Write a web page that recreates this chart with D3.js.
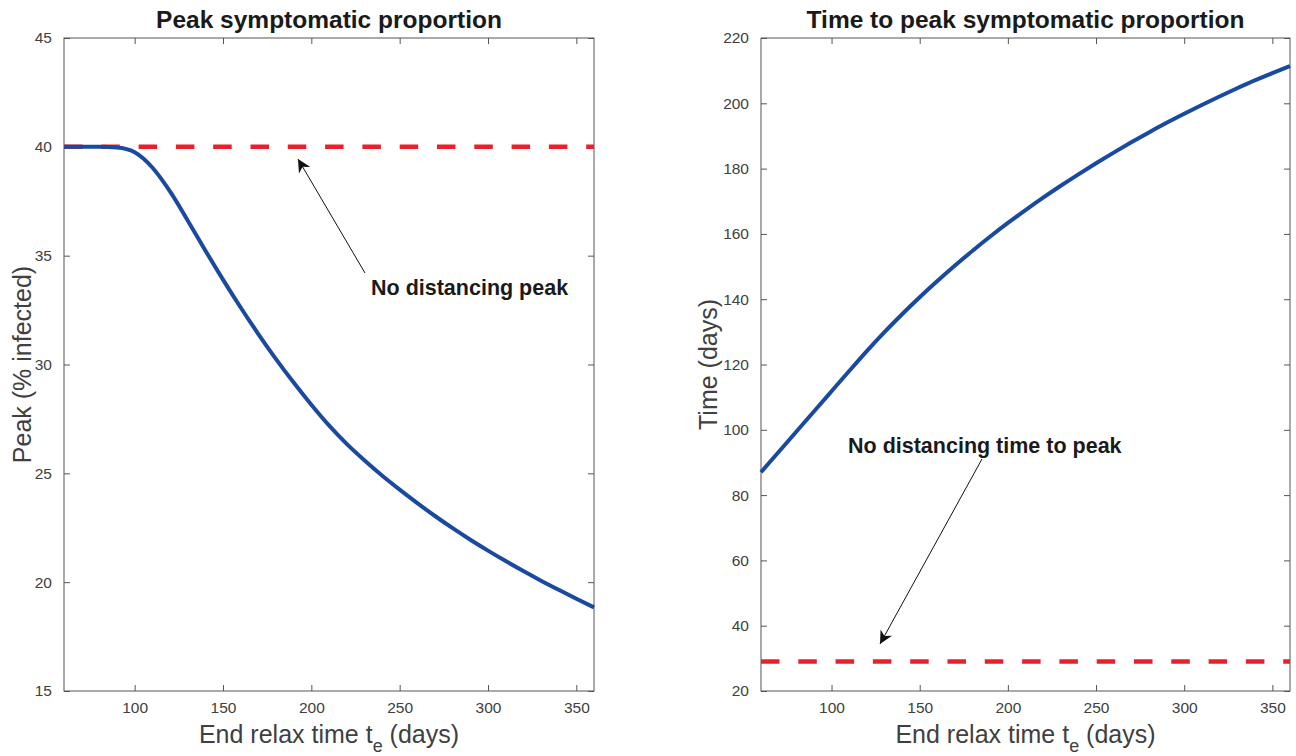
<!DOCTYPE html>
<html>
<head>
<meta charset="utf-8">
<script src="https://cdn.jsdelivr.net/npm/d3@7"></script>
<style>
  body { margin: 0; background: #fff; }
  svg { display: block; font-family: "Liberation Sans", Arial, sans-serif; }
</style>
</head>
<body>
<div id="chart"></div>
<script>
// end relax time t_e (days)
var relaxTimes = [60, 70, 80, 90, 100, 110, 120, 130, 140, 150, 160, 170, 180, 190, 200, 210,
                  220, 230, 240, 250, 260, 270, 280, 290, 300, 310, 320, 330, 340, 350, 360];
// peak symptomatic proportion (% infected)
var peakValues = [40.0, 40.0, 40.0, 39.97, 39.75, 39.05, 37.95, 36.62, 35.24, 33.9, 32.62, 31.4, 30.25, 29.17, 28.15, 27.2,
                  26.35, 25.6, 24.9, 24.25, 23.63, 23.04, 22.48, 21.95, 21.45, 20.97, 20.51, 20.07, 19.65, 19.24, 18.84];
// time to peak (days)
var peakTimes = [87, 93.2, 99.4, 105.6, 111.8, 118.0, 124.1, 129.9, 135.4, 140.6, 145.55, 150.3, 154.85, 159.2, 163.35, 167.3,
                 171.1, 174.75, 178.25, 181.63, 184.89, 188.04, 191.08, 194.02, 196.8, 199.5, 202.1, 204.6, 207.0, 209.25, 211.4];
var noDistancingPeak = 40;
var noDistancingTime = 29;

var xTicks = [100, 150, 200, 250, 300, 350];
var leftYTicks = [15, 20, 25, 30, 35, 40, 45];
var rightYTicks = [20, 40, 60, 80, 100, 120, 140, 160, 180, 200, 220];

var width = 1296, height = 756;
var blue = "#1a4aa0", red = "#e8202d", axisColor = "#555", textColor = "#404040";

var svg = d3.select("#chart").append("svg")
    .attr("width", width)
    .attr("height", height);

svg.append("defs").append("marker")
    .attr("id", "head")
    .attr("viewBox", "0 0 10 10")
    .attr("refX", 10).attr("refY", 5)
    .attr("markerWidth", 13).attr("markerHeight", 13)
    .attr("markerUnits", "userSpaceOnUse")
    .attr("orient", "auto")
  .append("path")
    .attr("d", "M0,0 L10,5 L0,10 L3,5 Z")
    .attr("fill", "#111");

function panel(opts) {
  var x = d3.scaleLinear().domain([60, 360]).range([opts.left, opts.right]);
  var y = d3.scaleLinear().domain(opts.yDomain).range([691, 38]);
  var g = svg.append("g");

  // box
  g.append("rect")
    .attr("x", opts.left).attr("y", 38)
    .attr("width", opts.right - opts.left).attr("height", 653)
    .attr("fill", "none").attr("stroke", axisColor).attr("stroke-width", 1);

  // ticks (inward, mirrored)
  var tl = 6;
  var bottom = g.append("g").attr("transform", "translate(0,691)")
    .call(d3.axisBottom(x).tickValues(xTicks).tickSizeInner(-tl).tickSizeOuter(0).tickPadding(11));
  var top = g.append("g").attr("transform", "translate(0,38)")
    .call(d3.axisTop(x).tickValues(xTicks).tickSizeInner(-tl).tickSizeOuter(0).tickFormat(""));
  var leftAx = g.append("g").attr("transform", "translate(" + opts.left + ",0)")
    .call(d3.axisLeft(y).tickValues(opts.yTicks).tickSizeInner(-tl).tickSizeOuter(0).tickPadding(12));
  var rightAx = g.append("g").attr("transform", "translate(" + opts.right + ",0)")
    .call(d3.axisRight(y).tickValues(opts.yTicks).tickSizeInner(-tl).tickSizeOuter(0).tickFormat(""));
  [bottom, top, leftAx, rightAx].forEach(function (a) {
    a.select(".domain").remove();
    a.selectAll(".tick line").attr("stroke", axisColor);
    a.selectAll(".tick text").attr("fill", textColor).style("font-size", "15.5px")
      .style("font-family", "Liberation Sans, Arial, sans-serif");
  });

  // reference dashed line
  g.append("line")
    .attr("x1", x(60)).attr("x2", x(360))
    .attr("y1", y(opts.refValue)).attr("y2", y(opts.refValue))
    .attr("stroke", red).attr("stroke-width", 4.5)
    .attr("stroke-dasharray", "18.5,18.8");

  // curve
  var line = d3.line()
    .x(function (d, i) { return x(relaxTimes[i]); })
    .y(function (d) { return y(d); })
    .curve(d3.curveMonotoneX);
  g.append("path")
    .datum(opts.values)
    .attr("d", line)
    .attr("fill", "none").attr("stroke", blue).attr("stroke-width", 4);

  // title
  g.append("text")
    .attr("x", (opts.left + opts.right) / 2).attr("y", 28)
    .attr("text-anchor", "middle")
    .style("font-size", "24.5px").style("font-weight", "bold").attr("fill", "#1a1a1a")
    .text(opts.title);

  // x label
  var xl = g.append("text")
    .attr("x", (opts.left + opts.right) / 2).attr("y", 743)
    .attr("text-anchor", "middle")
    .style("font-size", "25px").attr("fill", textColor);
  xl.append("tspan").text("End relax time t");
  xl.append("tspan").attr("dy", 9).style("font-size", "18px").text("e");
  xl.append("tspan").attr("dy", -9).text(" (days)");

  // y label
  g.append("text")
    .attr("transform", "translate(" + opts.yLabelX + "," + (38 + 691) / 2 + ") rotate(-90)")
    .attr("text-anchor", "middle")
    .style("font-size", "25px").attr("fill", textColor)
    .text(opts.yLabel);

  // annotation
  g.append("line")
    .attr("x1", opts.arrow[0]).attr("y1", opts.arrow[1])
    .attr("x2", opts.arrow[2]).attr("y2", opts.arrow[3])
    .attr("stroke", "#111").attr("stroke-width", 1)
    .attr("marker-end", "url(#head)");
  g.append("text")
    .attr("x", opts.note[0]).attr("y", opts.note[1])
    .style("font-size", "21.5px").style("font-weight", "bold").attr("fill", "#1a1a1a")
    .text(opts.noteText);
}

panel({
  left: 64, right: 594, yDomain: [15, 45], yTicks: leftYTicks,
  values: peakValues, refValue: noDistancingPeak,
  title: "Peak symptomatic proportion", yLabel: "Peak (% infected)", yLabelX: 31,
  arrow: [365, 273, 298, 159], note: [371, 295], noteText: "No distancing peak"
});

panel({
  left: 761, right: 1290, yDomain: [20, 220], yTicks: rightYTicks,
  values: peakTimes, refValue: noDistancingTime,
  title: "Time to peak symptomatic proportion", yLabel: "Time (days)", yLabelX: 717,
  arrow: [982, 459, 880, 644], note: [848, 453], noteText: "No distancing time to peak"
});
</script>
</body>
</html>
